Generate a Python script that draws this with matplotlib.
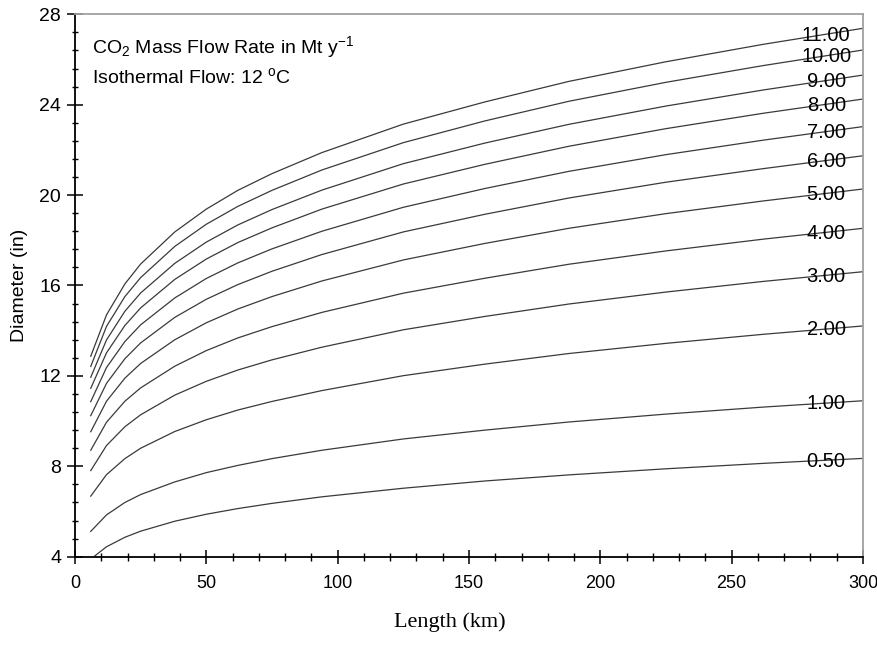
import matplotlib
matplotlib.use("Agg")
import matplotlib.pyplot as plt
from matplotlib.ticker import MultipleLocator

plt.rcParams['font.family'] = ['Liberation Sans', 'DejaVu Sans']
plt.rcParams['mathtext.fontset'] = 'custom'
plt.rcParams['mathtext.rm'] = 'Liberation Sans'
plt.rcParams['mathtext.it'] = 'Liberation Sans:italic'

# Pipeline length (km) where the curves were read
lengths = [6, 12, 19, 25, 38, 50, 62, 75, 94, 125, 156, 188, 225, 262, 300]
lengths_05 = [7.6, 12, 19, 25, 38, 50, 62, 75, 94, 125, 156, 188, 225, 262, 300]

# Diameter (in) for each mass flow rate (Mt/y)
d_11 = [12.87, 14.70, 16.07, 16.95, 18.37, 19.38, 20.21, 20.95, 21.88, 23.14, 24.12, 25.03, 25.90, 26.67, 27.38]
d_10 = [12.42, 14.19, 15.51, 16.35, 17.73, 18.71, 19.50, 20.21, 21.11, 22.32, 23.28, 24.15, 24.99, 25.73, 26.42]
d_9 = [11.94, 13.59, 14.86, 15.67, 16.98, 17.92, 18.68, 19.36, 20.22, 21.39, 22.30, 23.13, 23.94, 24.65, 25.31]
d_8 = [11.45, 13.02, 14.23, 15.01, 16.27, 17.17, 17.90, 18.55, 19.38, 20.49, 21.36, 22.16, 22.94, 23.62, 24.25]
d_7 = [10.86, 12.37, 13.52, 14.26, 15.45, 16.31, 17.00, 17.62, 18.40, 19.46, 20.29, 21.05, 21.79, 22.43, 23.03]
d_6 = [10.24, 11.67, 12.76, 13.46, 14.59, 15.39, 16.04, 16.63, 17.37, 18.37, 19.15, 19.87, 20.57, 21.17, 21.74]
d_5 = [9.53, 10.88, 11.90, 12.55, 13.60, 14.35, 14.96, 15.51, 16.20, 17.13, 17.86, 18.53, 19.18, 19.74, 20.27]
d_4 = [8.71, 9.95, 10.88, 11.47, 12.43, 13.12, 13.68, 14.18, 14.81, 15.66, 16.32, 16.94, 17.53, 18.05, 18.53]
d_3 = [7.81, 8.92, 9.75, 10.28, 11.15, 11.76, 12.26, 12.71, 13.27, 14.04, 14.63, 15.18, 15.71, 16.18, 16.61]
d_2 = [6.68, 7.63, 8.34, 8.80, 9.54, 10.06, 10.49, 10.87, 11.35, 12.01, 12.52, 12.99, 13.44, 13.84, 14.21]
d_1 = [5.12, 5.85, 6.40, 6.75, 7.31, 7.72, 8.04, 8.34, 8.71, 9.21, 9.60, 9.96, 10.31, 10.62, 10.90]
d_05 = [4.04, 4.44, 4.86, 5.13, 5.57, 5.88, 6.13, 6.36, 6.65, 7.03, 7.35, 7.62, 7.89, 8.13, 8.35]

flow_labels = ['11.00', '10.00', '9.00', '8.00', '7.00', '6.00', '5.00', '4.00', '3.00', '2.00', '1.00', '0.50']
series = [d_11, d_10, d_9, d_8, d_7, d_6, d_5, d_4, d_3, d_2, d_1, d_05]

fig = plt.figure(figsize=(8.78, 6.49), dpi=100)
ax = fig.add_axes([0.0854, 0.1422, 0.8975, 0.8358])

label_x = 286
for lab, d in zip(flow_labels, series):
    x = lengths_05 if lab == '0.50' else lengths
    ax.plot(x, d, color='#3a3a3a', lw=0.9)
    # label sits on top of the line near the right edge, line runs through it
    y_lab = d[-2] + (d[-1] - d[-2]) * (label_x - x[-2]) / (x[-1] - x[-2])
    ax.text(label_x, y_lab - 0.28, lab, ha='center', va='baseline',
            fontsize=14.5, color='black')

ax.set_xlim(0, 300)
ax.set_ylim(4, 28)
ax.xaxis.set_major_locator(MultipleLocator(50))
ax.xaxis.set_minor_locator(MultipleLocator(10))
ax.yaxis.set_major_locator(MultipleLocator(4))
ax.yaxis.set_minor_locator(MultipleLocator(0.8))

ax.tick_params(axis='x', which='major', direction='inout', length=10, width=1.1, pad=8, labelsize=13)
ax.tick_params(axis='x', which='minor', direction='inout', length=6, width=1.0)
ax.tick_params(axis='y', which='major', direction='inout', length=12, width=1.1, pad=4, labelsize=14)
ax.tick_params(axis='y', which='minor', direction='inout', length=5, width=1.0)

for s in ['left', 'bottom']:
    ax.spines[s].set_color('black')
    ax.spines[s].set_linewidth(1.3)
for s in ['top', 'right']:
    ax.spines[s].set_color('#a0a0a0')
    ax.spines[s].set_linewidth(1.3)

fig.text(92 / 878, 1 - 53.5 / 649, r'CO$_2$ Mass Flow Rate in Mt y$^{\mathrm{-1}}$',
         fontsize=14, va='baseline', ha='left')
fig.text(92 / 878, 1 - 83.5 / 649, r'Isothermal Flow: 12 $^{\mathrm{o}}$C',
         fontsize=14, va='baseline', ha='left')

fig.text(20 / 878, 0.5 - (285.5 - 324.5) / 649, 'Diameter (in)', rotation=90,
         ha='center', va='center', fontsize=14)
fig.text(450 / 878, 1 - 622 / 649, 'Length (km)', ha='center', va='center',
         fontsize=16, family=['Liberation Serif', 'DejaVu Serif'])

fig.savefig('out.png', dpi=100)
